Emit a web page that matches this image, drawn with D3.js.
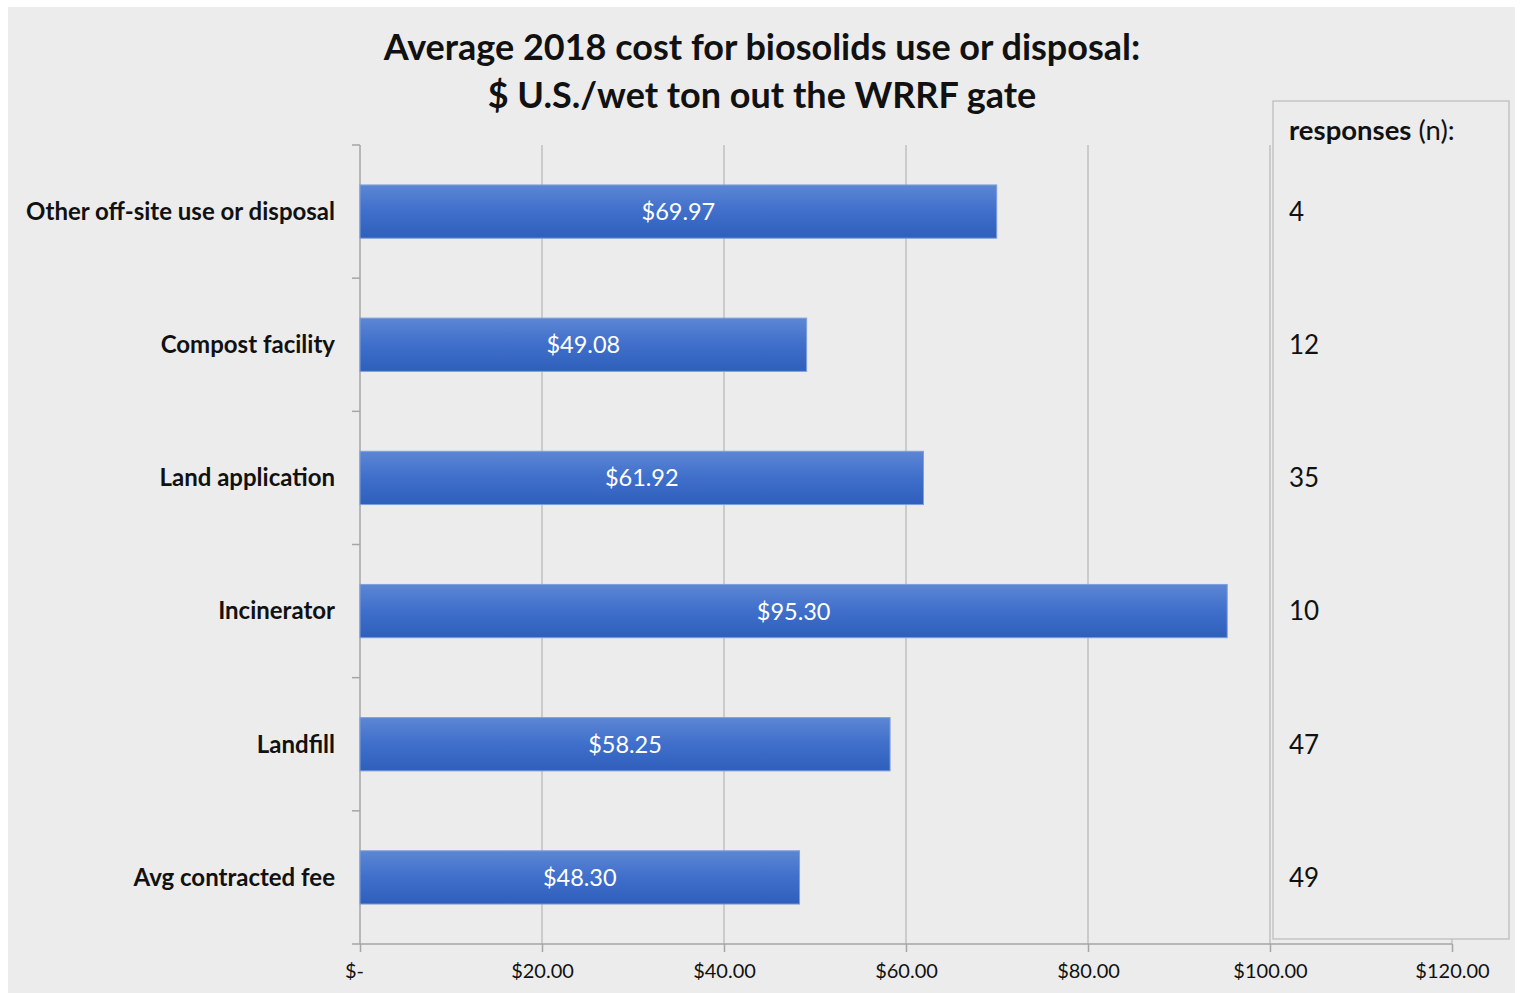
<!DOCTYPE html>
<html><head><meta charset="utf-8">
<script src="https://cdn.jsdelivr.net/npm/d3@7"></script>
<style>
html,body{margin:0;padding:0;background:#fff;}
svg{display:block;font-family:Lato,"Open Sans",sans-serif;}
</style></head>
<body>
<svg id="chart" width="1521" height="993"></svg>
<script>
const categories = ["Other off-site use or disposal","Compost facility","Land application","Incinerator","Landfill","Avg contracted fee"];
const costs = [69.97, 49.08, 61.92, 95.30, 58.25, 48.30];
const responses = [4, 12, 35, 10, 47, 49];
const xTicks = [0, 20, 40, 60, 80, 100, 120];
const titleLines = ["Average 2018 cost for biosolids use or disposal:", "$ U.S./wet ton out the WRRF gate"];

const svg = d3.select("#chart");
const m = {left:360, right:1452, top:145, bottom:944};

// background
svg.append("rect").attr("x",8).attr("y",7).attr("width",1507).attr("height",986).attr("fill","#ececec");

const defs = svg.append("defs");
const grad = defs.append("linearGradient").attr("id","barGrad").attr("x1",0).attr("y1",0).attr("x2",0).attr("y2",1);
grad.append("stop").attr("offset","0%").attr("stop-color","#5d86d4");
grad.append("stop").attr("offset","50%").attr("stop-color","#3f6fcb");
grad.append("stop").attr("offset","100%").attr("stop-color","#2e5fbb");

const x = d3.scaleLinear().domain([0,120]).range([m.left, m.right]);
const y = d3.scaleBand().domain(categories).range([m.top, m.bottom]).paddingInner(0.6).paddingOuter(0.3);

// gridlines
svg.append("g").selectAll("line").data(xTicks.slice(1)).join("line")
  .attr("x1",d=>x(d)).attr("x2",d=>x(d)).attr("y1",m.top).attr("y2",m.bottom)
  .attr("stroke","#c0c0c0").attr("stroke-width",1.5);

// x axis
const xAxis = d3.axisBottom(x).tickValues(xTicks).tickSize(8).tickPadding(12)
  .tickFormat(d => d===0 ? "$-" : "$" + d3.format(".2f")(d));
const gx = svg.append("g").attr("transform",`translate(0,${m.bottom})`).call(xAxis);
gx.select(".domain").attr("d",`M${m.left-8},0H${m.right}`).attr("stroke","#a6a6a6").attr("stroke-width",1.5);
gx.selectAll(".tick line").attr("stroke","#a6a6a6").attr("stroke-width",1.5);
gx.selectAll(".tick text").attr("font-size",20).attr("fill","#111").attr("font-family","Lato");
gx.selectAll(".tick text").filter(d=>d===0).attr("dx",-6);

// y axis
const bounds = d3.range(categories.length+1).map(i => m.top + i*(m.bottom-m.top)/categories.length);
svg.append("line").attr("x1",m.left).attr("x2",m.left).attr("y1",m.top).attr("y2",m.bottom).attr("stroke","#a6a6a6").attr("stroke-width",1.5);
svg.append("g").selectAll("line").data(bounds.slice(0,-1)).join("line")
  .attr("x1",m.left-8).attr("x2",m.left).attr("y1",d=>d).attr("y2",d=>d).attr("stroke","#a6a6a6").attr("stroke-width",1.5);
svg.append("g").selectAll("text").data(categories).join("text")
  .attr("x",335).attr("y",d=>y(d)+y.bandwidth()/2).attr("dy","0.35em")
  .attr("text-anchor","end").attr("font-weight","bold").attr("font-size",24).attr("fill","#111")
  .text(d=>d);

// bars
const data = categories.map((c,i)=>({c, v:costs[i], n:responses[i]}));
svg.append("g").selectAll("rect").data(data).join("rect")
  .attr("x",x(0)).attr("y",d=>y(d.c)).attr("width",d=>x(d.v)-x(0)).attr("height",y.bandwidth())
  .attr("fill","url(#barGrad)").attr("stroke","#7f9fdc").attr("stroke-width",1);
svg.append("g").selectAll("text").data(data).join("text")
  .attr("x",d=>(x(0)+x(d.v))/2).attr("y",d=>y(d.c)+y.bandwidth()/2).attr("dy","0.36em")
  .attr("text-anchor","middle").attr("font-size",23.5).attr("fill","#fff")
  .text(d=>"$"+d3.format(".2f")(d.v));

// responses box
svg.append("rect").attr("x",1273).attr("y",101).attr("width",236).attr("height",838)
  .attr("fill","#ececec").attr("stroke","#c3c3c3").attr("stroke-width",1.5);
const rt = svg.append("text").attr("x",1289).attr("y",140).attr("font-size",27.5).attr("fill","#111");
rt.append("tspan").attr("font-weight","bold").text("responses");
rt.append("tspan").text(" (n):");
svg.append("g").selectAll("text").data(data).join("text")
  .attr("x",1289).attr("y",d=>y(d.c)+y.bandwidth()/2).attr("dy","0.36em")
  .attr("font-size",26).attr("fill","#111").text(d=>d.n);

// title
svg.append("g").selectAll("text").data(titleLines).join("text")
  .attr("x",762).attr("y",(d,i)=>60+i*48).attr("text-anchor","middle")
  .attr("font-weight","bold").attr("font-size",36).attr("fill","#111").text(d=>d);
</script>
</body></html>
